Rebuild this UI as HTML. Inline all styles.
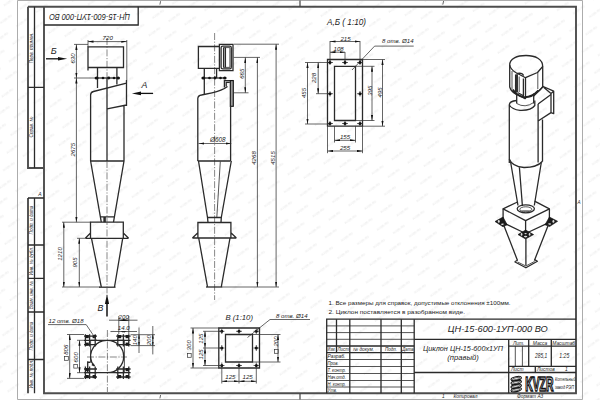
<!DOCTYPE html>
<html><head><meta charset="utf-8">
<style>
html,body{margin:0;padding:0;background:#fff;width:600px;height:400px;overflow:hidden}
svg{display:block}
text{font-family:"Liberation Sans",sans-serif;font-style:italic;fill:#222}
text.up{font-style:normal}
.k{stroke:#2a2a2a;stroke-width:1.3;fill:none}
.f{stroke:#4d4d4d;stroke-width:1.9;fill:none}
.m{stroke:#2a2a2a;stroke-width:0.8;fill:none}
.t{stroke:#333;stroke-width:0.75;fill:none}
.c{stroke:#555;stroke-width:0.7;fill:none;stroke-dasharray:7 1.6 1.2 1.6}
.g{stroke:#a3a3a3;stroke-width:0.9;fill:none}
</style></head>
<body>
<svg width="600" height="400" viewBox="0 0 600 400">
<defs>
<marker id="a" viewBox="0 0 10 4" refX="10" refY="2" markerWidth="5.5" markerHeight="2.2" markerUnits="userSpaceOnUse" orient="auto-start-reverse"><path d="M0,0 L10,2 L0,4 z" fill="#111"/></marker>
<marker id="s" viewBox="0 0 6 3" refX="6" refY="1.5" markerWidth="4" markerHeight="2" markerUnits="userSpaceOnUse" orient="auto-start-reverse"><path d="M0,0 L6,1.5 L0,3 z" fill="#222"/></marker>
<pattern id="wm" patternUnits="userSpaceOnUse" width="16.44" height="17.97" patternTransform="translate(408.1,148.3) rotate(11.75)">
<text transform="translate(8.2,10.1) rotate(-47.7)" font-size="3.1" text-anchor="middle" style="fill:#ebebeb;font-style:normal;font-weight:bold">KYZR.RU</text>
</pattern>
</defs>
<rect width="600" height="400" fill="#fff"/>
<rect width="600" height="400" fill="url(#wm)"/>

<!-- ===== FRAME ===== -->
<g id="frame">
<path class="g" d="M17.5,0.5 H582.5 V399.5 H17.5 Z"/>
<path class="f" d="M28,6.7 H576 V393.3 H44 V6.7"/>
<path class="f" d="M28,6.7 V168 H44"/><path class="k" d="M34.5,6.7 V168 M28,87.4 H44"/>
<path class="f" d="M28,198 V393.3"/><path class="k" d="M28,198 H44 M34.5,198 V393.3 M28,245 H44 M28,278.4 H44 M28,312 H44 M28,359.5 H44"/>
<!-- top stamp -->
<path class="k" d="M44,25 H138.2 V6.7"/>
<path class="t" d="M160.6,1.2 L159.9,4.6 M443.6,1 L442.8,4.6 M160.6,395 L159.9,398.4"/><path d="M300,0.5 V6.7" stroke="#444" stroke-width="1.2"/>
</g>

<!-- left strip texts -->
<g font-size="4.6" text-anchor="middle">
<text transform="translate(32.6,48) rotate(-90)">Перв. примен.</text>
<text transform="translate(32.6,127) rotate(-90)">Справ. №</text>
<text transform="translate(32.6,220) rotate(-90)">Подп. и дата</text>
<text transform="translate(32.6,261) rotate(-90)">Инв. № дубл.</text>
<text transform="translate(32.6,295) rotate(-90)">Взам. инв. №</text>
<text transform="translate(32.6,336) rotate(-90)">Подп. и дата</text>
<text transform="translate(32.6,374) rotate(-90)">Инв. № подл.</text>
<text x="40" y="196" font-size="5">А</text>
<text x="579" y="204" font-size="4.5">А</text>
</g>
<text transform="translate(89.6,13.6) rotate(180)" font-size="9.6" text-anchor="middle" textLength="81" lengthAdjust="spacingAndGlyphs">ЦН-15-600-1УП-000 ВО</text>

<!-- ===== FRONT VIEW (left cyclone) ===== -->
<g id="front">
<path class="c" d="M107,38 V78"/>
<path class="k" d="M88,70.6 V46.9 H123.5 V67.5 H88"/>
<path class="k" d="M97.5,67.5 V88 M116.9,67.5 V84.5"/>
<path class="k" d="M94.4,78 H119.6" stroke-width="1.9"/>
<g fill="#111"><ellipse cx="96.6" cy="78" rx="2" ry="1.6"/><ellipse cx="103" cy="78" rx="1.3" ry="1.3"/><ellipse cx="108.7" cy="78" rx="1.5" ry="1.4"/><ellipse cx="114" cy="78" rx="1.3" ry="1.3"/><ellipse cx="118.2" cy="78" rx="1.7" ry="1.5"/></g>
<path class="k" d="M107,78 V161"/>
<path class="k" d="M90.6,161 V95 Q90.6,92.2 93.5,91.5 L126.5,83.2 M126.5,80 V106 M107,108.8 L126.5,105 M124,106 V161 M90.6,161 H124"/>
<path class="k" d="M90.6,161 L101.3,222.2 M124,161 L113.5,222.2 M100.3,216.9 H115 M104,216.9 V222.2 M105.2,216.9 V222.2"/>
<path class="k" d="M90.5,238.3 V222.2 H123.3 V238.3 M85.3,238.3 H128.6 M85.3,238.3 L90.5,233 M128.6,238.3 L123.3,233"/>
<path class="k" d="M91.5,238.3 L101.3,287 M122.7,238.3 L114.5,287"/>
<path class="k" d="M99,287.2 H115.5" stroke-width="1.5"/>
<path class="c" d="M107,161 V300"/>
<!-- dims -->
<path class="t" d="M88,40 V46.9 M126.8,40 V80" />
<path class="t" d="M88,41.6 H126.8" marker-start="url(#a)" marker-end="url(#a)"/>
<text x="107.7" y="40.3" font-size="6.1" text-anchor="middle">720</text>
<path class="t" d="M74,44.4 H88 M74,78 H94"/>
<path class="t" d="M76.4,44.4 V78" marker-start="url(#a)" marker-end="url(#a)"/>
<text transform="translate(74.6,58.5) rotate(-90)" font-size="6.1" text-anchor="middle">630</text>
<path class="t" d="M76.4,78 V222.2" marker-start="url(#a)" marker-end="url(#a)"/>
<text transform="translate(74.9,149.7) rotate(-90)" font-size="6.1" text-anchor="middle">2675</text>
<path class="t" d="M62,222.2 H90.5 M62,287 H100 M77,238.3 H85.3"/>
<path class="t" d="M63.8,222.2 V287" marker-start="url(#a)" marker-end="url(#a)"/>
<text transform="translate(62.4,254) rotate(-90)" font-size="6.1" text-anchor="middle">1210</text>
<path class="t" d="M79.3,238.3 V287" marker-start="url(#a)" marker-end="url(#a)"/>
<text transform="translate(77.4,262.5) rotate(-90)" font-size="6.1" text-anchor="middle">905</text>
<!-- view arrows -->
<path d="M46,58.8 H60" stroke="#111" stroke-width="1.3"/><path d="M67.2,58.8 L58,57.1 L58,60.5 Z" fill="#111"/>
<text x="50.8" y="53.6" font-size="9.2">Б</text>
<path d="M140,93.4 H153.1" stroke="#111" stroke-width="1.3"/><path d="M131.9,93.4 L141,91.6 L141,95.2 Z" fill="#111"/>
<text x="141.6" y="88.4" font-size="8.8">А</text>
<path d="M107,316.5 V302" stroke="#111" stroke-width="1.5"/><path d="M107,294 L104.9,304 L109.1,304 Z" fill="#111"/>
<text x="97.6" y="310.8" font-size="8.8">В</text>
</g>

<!-- ===== SIDE VIEW ===== -->
<g id="side">
<path class="c" d="M214.6,33 V300"/>
<path class="k" d="M219.4,46.5 H198.4 V68.4 H219.4"/>
<path class="k" d="M219.4,44.4 H233 V70.6 H219.4 Z"/>
<rect x="221.1" y="46.1" width="10.2" height="22.8" rx="1.6" class="k"/>
<path class="k" d="M223.6,47.6 V67.4 M225.4,47.6 V67.4" stroke-width="1"/><path class="m" d="M223.4,47.6 H229.9 V67.4 H223.4"/>
<path class="k" d="M204.3,68.4 V95 M216.6,68.4 V78"/>
<path class="k" d="M201.9,78 H226.3" stroke-width="1.9"/>
<g fill="#111"><ellipse cx="203.4" cy="78" rx="2" ry="1.6"/><ellipse cx="209.5" cy="78" rx="1.3" ry="1.3"/><ellipse cx="215" cy="78" rx="1.4" ry="1.4"/><ellipse cx="220.5" cy="78" rx="1.3" ry="1.3"/><ellipse cx="224.8" cy="78" rx="1.7" ry="1.5"/></g>
<path class="k" d="M197.8,161 V98.5 Q198,95.6 201.5,95 L212,92.8 Q222,90.6 227.5,86.5"/>
<path class="k" d="M224.4,87.5 V80.6 H233.3 M226.2,86.5 V82.4 H229.8"/>
<rect x="230.3" y="80.6" width="3" height="25.7" fill="#999" stroke="#111" stroke-width="1.1"/>
<path class="k" d="M230.6,106.3 V161 M197.8,161 H230.6"/>
<path class="t" d="M198.5,143.5 H231.3" marker-start="url(#a)" marker-end="url(#a)"/>
<text x="217.8" y="141.6" font-size="6.4" text-anchor="middle">Ø608</text>
<path class="k" d="M198.5,161 L207.5,217.5 M231.3,161 L221.3,217.5 M207.5,217.5 H221.3 M208,222.5 L207.5,217.5 M221,222.5 L221.3,217.5"/>
<path class="m" d="M220.3,161.5 L216.8,217.5"/>
<path class="k" d="M197.9,238 V222.5 H230.9 V238 M192.4,238 H236.4 M192.4,238 L197.9,232.8 M236.4,238 L230.9,232.8"/>
<path class="k" d="M198.7,238 L207.5,286.8 M230,238 L221.3,286.8"/>
<path class="k" d="M206,287 H222.5" stroke-width="1.5"/>
<!-- dims -->
<path class="t" d="M234,44.2 H279 M233.7,57.4 H260 M234,92.8 H248.5 M222.5,287 H279"/>
<path class="t" d="M245.3,57.4 V92.8" marker-start="url(#a)" marker-end="url(#a)"/>
<text transform="translate(244.2,73.7) rotate(-90)" font-size="6.1" text-anchor="middle">665</text>
<path class="t" d="M257.4,57.4 V287" marker-start="url(#a)" marker-end="url(#a)"/>
<text transform="translate(256,158) rotate(-90)" font-size="6.1" text-anchor="middle">4268</text>
<path class="t" d="M276.1,44.2 V287" marker-start="url(#a)" marker-end="url(#a)"/>
<text transform="translate(274.5,158) rotate(-90)" font-size="6.1" text-anchor="middle">4515</text>
</g>

<!-- ===== VIEW A,B ===== -->
<g id="viewAB">
<text x="327" y="25" font-size="8.2" textLength="39" lengthAdjust="spacingAndGlyphs">А,Б ( 1:10)</text>
<path class="k" d="M327.5,59.5 H362.5 V126.2 H327.5 Z"/>
<path class="k" d="M334.5,66.3 H355.5 V120.5 H334.5 Z"/>
<g class="t">
<path d="M330,41 V62 M345,52 V62 M360,41 V62"/>
<path d="M330,41.5 H360" marker-start="url(#a)" marker-end="url(#a)"/>
<path d="M330,52.2 H345" marker-start="url(#a)" marker-end="url(#a)"/>
<path d="M305,62.5 H330 M316,93.7 H330 M305,124 H330"/>
<path d="M307.5,62.5 V124" marker-start="url(#a)" marker-end="url(#a)"/>
<path d="M318.2,62.5 V93.7" marker-start="url(#a)" marker-end="url(#a)"/>
<path d="M355.5,66.3 H374.5 M355.5,120.5 H374.5 M362.5,59.5 H385 M362.5,126.2 H385"/>
<path d="M372,66.3 V120.5" marker-start="url(#a)" marker-end="url(#a)"/>
<path d="M382.5,59.5 V126.2" marker-start="url(#a)" marker-end="url(#a)"/>
<path d="M334.5,126.2 V142.5 M355.5,126.2 V142.5 M327.5,126.2 V153.2 M362.5,126.2 V153.2"/>
<path d="M334.5,140.3 H355.5" marker-start="url(#a)" marker-end="url(#a)"/>
<path d="M327.5,151 H362.5" marker-start="url(#a)" marker-end="url(#a)"/>
<path d="M352,70 L374.6,46.1 H413.7"/>
</g>
<g class="t" stroke-width="0.7">
<path d="M327.5,62.5 H333 M342,62.5 H348 M357,62.5 H363 M330,60 V65 M345,60 V65 M360,60 V65"/>
<path d="M327.5,93.7 H333 M357,93.7 H363 M330,91 V96.5 M360,91 V96.5"/>
<path d="M327.5,123.5 H333 M342,123.5 H348 M357,123.5 H363 M330,121 V126 M345,121 V126 M360,121 V126"/>
</g>
<g fill="#111"><circle cx="330" cy="62.5" r="1.5"/><circle cx="345" cy="62.5" r="1.5"/><circle cx="360" cy="62.5" r="1.5"/><circle cx="330" cy="93.7" r="1.5"/><circle cx="360" cy="93.7" r="1.5"/><circle cx="330" cy="123.5" r="1.5"/><circle cx="345" cy="123.5" r="1.5"/><circle cx="360" cy="123.5" r="1.5"/></g>
<g font-size="6.1" text-anchor="middle">
<text x="345.5" y="40.6">215</text>
<text x="338.6" y="51.1">108</text>
<text x="345" y="138.6">155</text>
<text x="345" y="149.6">255</text>
<text transform="translate(305.6,93) rotate(-90)">455</text>
<text transform="translate(316.3,78) rotate(-90)">228</text>
<text transform="translate(371.6,90.6) rotate(-90)">395</text>
<text transform="translate(381.6,92.4) rotate(-90)">495</text>
</g>
<text x="382" y="43" font-size="6.1">8 отв. Ø14</text>
</g>

<!-- ===== NOTES ===== -->
<g font-size="6" style="font-style:normal">
<text class="up" x="328.5" y="305.3" textLength="182" lengthAdjust="spacingAndGlyphs">1. Все размеры для справок, допустимые отклонения ±100мм.</text>
<text class="up" x="328.5" y="313.5" textLength="136.5" lengthAdjust="spacingAndGlyphs">2. Циклон поставляется в разобранном виде.</text>
</g>

<!-- ===== 3D VIEW ===== -->
<g id="iso" stroke-linejoin="round">
<!-- drum -->
<path class="k" d="M509.7,65 C509.7,58.5 517,55.5 526,55.5 C535.5,55.5 542.7,59 542.7,66.5 L537.5,72.5 L525.5,77.7 L515.7,72.5 Q510.5,69.5 509.7,65 Z"/>
<path class="k" d="M509.7,65 V87 Q511,91.5 516.5,94.5 M542.7,66.5 V86.5 Q541,90 535,93.5 M525.5,77.7 V99"/>
<path class="m" d="M537.8,72.3 V89 M512,71 V89.5"/>
<path class="k" d="M516.5,74.5 Q518,72.8 521,73.4 Q523.5,74 523.3,75.8"/>
<path d="M515.6,74.6 H518 V92.5 H515.6 Z" fill="#333"/>
<path class="k" d="M515.6,74.6 V93.5 L525.5,99 M523.4,78.6 V95.8 L518,92.8"/>
<path class="m" d="M519.2,76.5 V92"/>
<!-- neck -->
<path class="k" d="M516.7,95 V103.5 M533.7,93.5 V103.5"/>
<path class="m" d="M516.7,103.5 Q525,108.5 533.7,102.5"/>
<path d="M512.8,89.5 Q516,95.5 524,97.2 Q532,97.5 538.5,90.5" stroke="#222" stroke-width="2" fill="none"/>
<!-- body -->
<path class="k" d="M509.3,163 V105 Q509.5,101 516.7,100.5 M509.3,105 Q512,109.5 520,110.3 Q531,110.8 534.8,105.5 V100.5"/>
<path class="k" d="M538.1,104 V162.5 M542.5,119.5 V161.5"/>
<path class="k" d="M509.3,159 Q512,166.5 524,167.5 Q537,167.5 542.5,161.2"/>
<!-- inlet -->
<path class="k" d="M533.7,96 L543.2,86.5 L553.7,91.2 V113.7 L551,112.6 V93.5 L543.6,87.3 M551,93.5 L553.7,91.2"/>
<path class="k" d="M538.1,104 L551,94.5 M538.1,121 L551,112.6"/>
<!-- cone -->
<path class="k" d="M510.6,162 L518,205.5 M541.3,162.5 L534.3,205.5 M519.4,167.3 L522.4,206"/>
<ellipse cx="525.8" cy="208.8" rx="8.6" ry="4" class="k"/>
<ellipse cx="525.8" cy="209.3" rx="6" ry="2.5" class="m"/>
<path d="M520.5,210 Q525.8,212.5 531,210 Q525.8,211 520.5,210Z" fill="#222"/>
<!-- box -->
<path class="k" d="M517.5,202 L503.1,208.8 L525.6,220.6 L549.4,208.8 L534.6,201.2"/>
<path class="k" d="M503.1,208.8 V222.7 L525.6,233.5 L549.4,222.4 V208.8 M525.6,220.6 V233.5"/>
<!-- plates -->
<g fill="#1a1a1a" stroke="#111" stroke-width="0.6" stroke-linejoin="round">
<path d="M495,221.5 L503,217 L507.2,224.8 L503,226.8 Z"/>
<path d="M518,234.6 L525.6,230 L533.6,234.6 L525.6,239 Z"/>
<path d="M545,224.8 L549.4,217 L557.6,221.3 L549.6,226.5 Z"/>
</g>
<g fill="#ddd">
<ellipse cx="498.8" cy="221.4" rx="1" ry="1.4"/><ellipse cx="502.6" cy="224.2" rx="1.6" ry="0.8"/>
<ellipse cx="521.6" cy="234.4" rx="0.9" ry="1.4"/><ellipse cx="529.6" cy="234.4" rx="0.9" ry="1.4"/><ellipse cx="525.6" cy="236.6" rx="1.7" ry="0.8"/><ellipse cx="525.6" cy="233.6" rx="1.2" ry="0.6"/>
<ellipse cx="553.4" cy="221.4" rx="1" ry="1.4"/><ellipse cx="549.6" cy="224" rx="1.6" ry="0.8"/>
</g>
<!-- hopper -->
<path class="k" d="M503.5,224.5 L517.5,260.5 M548.5,224.5 L534.4,260.5 M525.9,238.7 V265.6"/>
<path d="M514.6,261.8 L525.9,267.8 L537.4,261.3 L534.6,259.6 M514.6,261.8 L517.6,260.2" class="k"/><path d="M517.6,262 L525.9,266 L534.6,261.4" class="m"/>
</g>

<!-- ===== PLAN VIEW ===== -->
<g id="plan">
<path class="c" d="M87,357 H127 M107.4,330 V392"/>
<path class="m" d="M90.6,340.3 V362 M124.4,340.3 V372.7"/>
<path class="k" d="M90.6,340.3 H124.4 M87.7,372.7 H124.4 M87.7,372.7 V362 L90.6,362.3 M107.5,340.3 A16.2,16.2 0 0 1 107.5,372.7 M107.5,340.3 A16.2,16.2 0 0 0 91.8,362.5 L94.6,366 L91.8,364.6"/>
<!-- corner clusters -->
<g class="k" stroke-width="1.15">
<path d="M85.4,334.2 V346.5 M89.6,334.2 V346.5 M95.2,334.2 V346.5 M84,336.2 H97 M84,344.6 H97"/>
<path d="M117.8,334.2 V346.5 M123.4,334.2 V346.5 M128.8,334.2 V346.5 M116.2,336.2 H130.6 M116.2,344.6 H130.6"/>
<path d="M85.4,366.5 V379 M89.6,366.5 V379 M95.2,366.5 V379 M84,369 H97 M84,377 H97"/>
<path d="M117.8,366.5 V379 M123.4,366.5 V379 M128.8,366.5 V379 M116.2,369 H130.6 M116.2,377 H130.6"/>
</g>
<path class="k" d="M84,340.3 H97 M116.2,340.3 H130.6 M84,372.7 H97 M116.2,372.7 H130.6"/>
<g fill="#1a1a1a">
<rect x="85.6" y="335" width="3.2" height="3.2"/><rect x="92.6" y="335" width="3.2" height="3.2"/><rect x="85.6" y="342.6" width="3.2" height="3.2"/>
<rect x="118" y="335" width="3.2" height="3.2"/><rect x="125.6" y="335" width="3.2" height="3.2"/><rect x="125.6" y="342.6" width="3.2" height="3.2"/>
<rect x="85.6" y="368" width="3.2" height="3.2"/><rect x="85.6" y="375" width="3.2" height="3.2"/><rect x="92.6" y="375" width="3.2" height="3.2"/>
<rect x="125.6" y="368" width="3.2" height="3.2"/><rect x="118" y="375" width="3.2" height="3.2"/><rect x="125.6" y="375" width="3.2" height="3.2"/>
</g>
<!-- dims -->
<g class="t">
<path d="M67,334.5 H84 M77,340.3 H84 M77,372.7 H87.7 M67,378.4 H84"/>
<path d="M69.7,334.5 V378.4" marker-start="url(#a)" marker-end="url(#a)"/>
<path d="M79.5,340.3 V372.7" marker-start="url(#a)" marker-end="url(#a)"/>
<path d="M118.8,316 V334 M128.8,316 V334"/>
<path d="M109,320.2 H137.5"/>
<path d="M118.8,320.2 H128.8" marker-start="url(#a)" marker-end="url(#a)"/>
<path d="M110.5,331.5 H137"/>
<path d="M121.2,331.5 H126.4" marker-start="url(#s)" marker-end="url(#s)"/>
<path d="M130.6,334.7 H155 M130.6,345.6 H155 M139,327.5 V353 M152.8,326 V354.4"/>
<path d="M139,334.7 V345.6" marker-start="url(#s)" marker-end="url(#s)"/>
<path d="M152.8,334.7 V345.6" marker-start="url(#s)" marker-end="url(#s)"/>
<path d="M48,324.6 H86.2 L96,339.2"/>
</g>
<g font-size="6.1" text-anchor="middle">
<text x="123.7" y="318.6">200</text>
<text x="123.7" y="329.8">14.0</text>
<text transform="translate(137.2,340.2) rotate(-90)">140</text>
<text transform="translate(150.9,340.2) rotate(-90)">200</text>
<text transform="translate(68.3,349.7) rotate(-90)">806</text>
<text transform="translate(77.6,357.3) rotate(-90)">600</text>
</g>
<text x="48.5" y="323" font-size="6.1">12 отв.  Ø18</text>
</g>

<!-- ===== VIEW V ===== -->
<g id="viewV">
<text x="225.5" y="319.5" font-size="8" textLength="27.5" lengthAdjust="spacingAndGlyphs">В (1:10)</text>
<path class="k" d="M218.8,328 H259.5 V368 H218.8 Z"/>
<path class="k" d="M225.5,334.5 H252.5 V362 H225.5 Z"/>
<g class="t" stroke-width="0.7">
<path d="M219,331.3 H224.5 M236,331.3 H242 M253.5,331.3 H259.3 M221.8,328.5 V334 M239,328.5 V334 M256.3,328.5 V334"/>
<path d="M219,348 H224.5 M253.5,348 H259.3 M221.8,345 V351 M256.3,345 V351"/>
<path d="M219,365.5 H224.5 M236,365.5 H242 M253.5,365.5 H259.3 M221.8,362.5 V368 M239,362.5 V368 M256.3,362.5 V368"/>
</g>
<g fill="#111"><circle cx="221.8" cy="331.3" r="1.5"/><circle cx="239" cy="331.3" r="1.5"/><circle cx="256.3" cy="331.3" r="1.5"/><circle cx="221.8" cy="348" r="1.5"/><circle cx="256.3" cy="348" r="1.5"/><circle cx="221.8" cy="365.5" r="1.5"/><circle cx="239" cy="365.5" r="1.5"/><circle cx="256.3" cy="365.5" r="1.5"/></g>
<g class="t">
<path d="M190.5,328 H218.8 M190.5,368 H218.8 M203,331.3 H221.8 M203,348 H221.8 M203,365.5 H221.8"/>
<path d="M193,328 V368" marker-start="url(#a)" marker-end="url(#a)"/>
<path d="M205,331.3 V348" marker-start="url(#a)" marker-end="url(#a)"/>
<path d="M205,348 V365.5" marker-start="url(#a)" marker-end="url(#a)"/>
<path d="M252.5,334.5 H280.5 M252.5,362 H280.5"/>
<path d="M278,334.5 V362" marker-start="url(#a)" marker-end="url(#a)"/>
<path d="M221.8,368 V383.5 M239,368 V383.5 M256.3,368 V383.5"/>
<path d="M221.8,381.3 H239" marker-start="url(#a)" marker-end="url(#a)"/>
<path d="M239,381.3 H256.3" marker-start="url(#a)" marker-end="url(#a)"/>
<path d="M247.5,337.5 L270,319.5 H310"/>
</g>
<g font-size="6.1" text-anchor="middle">
<text x="230.4" y="379.3">125</text>
<text x="247.6" y="379.3">125</text>
<text transform="translate(203.4,338.6) rotate(-90)">125</text>
<text transform="translate(203.4,354.4) rotate(-90)">125</text>
<text transform="translate(191.2,345.3) rotate(-90)">300</text>
<text transform="translate(278.4,341.5) rotate(-90)">200</text>
</g>
<text x="276" y="317.8" font-size="6.1">8 отв.  Ø14</text>
<path d="M300,393.3 V399.5" stroke="#444" stroke-width="1.2"/>
</g>

<!-- ===== TITLE BLOCK ===== -->
<g id="title">
<path class="k" d="M326.7,393.3 V319.2 H576"/>
<path class="m" d="M326.7,325.9 H414.2 M326.7,332.6 H414.2 M326.7,339.3 H414.2"/>
<path class="k" d="M326.7,346 H414.2 M326.7,352.6 H414.2"/>
<path class="m" d="M326.7,359.5 H414.2 M326.7,366.5 H414.2 M326.7,373.5 H414.2 M326.7,380.5 H414.2 M326.7,387 H414.2"/>
<path class="k" d="M336.5,319.2 V352.7 M349.8,319.2 V393.3 M381,319.2 V393.3 M401.3,319.2 V393.3 M414.2,319.2 V393.3"/>
<path class="k" d="M414.2,339.4 H576 M414.2,372.5 H576 M508.7,339.4 V393.3 M508.7,346.1 H576 M508.7,366.3 H576 M528.7,339.4 V366.3 M551.3,339.4 V366.3 M535.3,366.3 V372.5"/>
<path class="m" d="M515.3,346.1 V366.3 M522.4,346.1 V366.3"/>
<g font-size="4.9">
<text x="327.6" y="351.3" textLength="8" lengthAdjust="spacingAndGlyphs">Изм.</text>
<text x="337.5" y="351.3" textLength="11.5" lengthAdjust="spacingAndGlyphs">Лист</text>
<text x="353" y="351.3" textLength="21" lengthAdjust="spacingAndGlyphs">№ докум.</text>
<text x="385" y="351.3" textLength="12" lengthAdjust="spacingAndGlyphs">Подп.</text>
<text x="402.2" y="351.3" textLength="11.5" lengthAdjust="spacingAndGlyphs">Дата</text>
<text x="327.5" y="358.4" font-size="6.2" textLength="18" lengthAdjust="spacingAndGlyphs">Разраб.</text>
<text x="327.5" y="364.8" font-size="6.2" textLength="11" lengthAdjust="spacingAndGlyphs">Пров.</text>
<text x="327.5" y="371.9" font-size="6.2" textLength="18.5" lengthAdjust="spacingAndGlyphs">Т. контр.</text>
<text x="327.5" y="378.8" font-size="6.2" textLength="18.5" lengthAdjust="spacingAndGlyphs">Нач.отд.</text>
<text x="327.5" y="385.6" font-size="6.2" textLength="18.5" lengthAdjust="spacingAndGlyphs">Н. контр.</text>
<text x="327.5" y="392" font-size="6.2" textLength="9.5" lengthAdjust="spacingAndGlyphs">Утв.</text>
<text x="518.7" y="344.6" text-anchor="middle">Лит.</text>
<text x="540" y="344.6" text-anchor="middle">Масса</text>
<text x="563.7" y="344.6" text-anchor="middle">Масштаб</text>
<text x="511" y="371.2">Лист</text>
<text x="537" y="371.2">Листов</text>
<text x="565" y="371.2">1</text>
</g>
<text x="535" y="358" font-size="6.6" textLength="12.2" lengthAdjust="spacingAndGlyphs">285,1</text>
<text x="559.3" y="358" font-size="6.6" textLength="10" lengthAdjust="spacingAndGlyphs">1:25</text>
<text x="447.8" y="331.7" font-size="8.8" textLength="100" lengthAdjust="spacingAndGlyphs">ЦН-15-600-1УП-000 ВО</text>
<text x="463" y="350.5" font-size="7.6" text-anchor="middle" textLength="80" lengthAdjust="spacingAndGlyphs">Циклон ЦН-15-600х1УП</text>
<text x="463" y="360" font-size="7.6" text-anchor="middle">(правый)</text>
<g font-size="4.8">
<text x="442" y="398.3">1</text>
<text x="453.5" y="398.3">Копировал</text>
<text x="517" y="398.3">Формат А3</text>
</g>
<!-- logo -->
<g>
<g fill="none" stroke="#111" stroke-width="1.1">
<ellipse cx="516.2" cy="378.6" rx="5.3" ry="1.9" transform="rotate(-12 516.2 378.6)"/>
<ellipse cx="516.2" cy="382.4" rx="5.3" ry="1.9" transform="rotate(-12 516.2 382.4)"/>
<ellipse cx="516.2" cy="386.2" rx="5.3" ry="1.9" transform="rotate(-12 516.2 386.2)"/>
<ellipse cx="516.2" cy="389.8" rx="5.3" ry="1.9" transform="rotate(-12 516.2 389.8)"/>
</g>
<g fill="none" stroke="#111" stroke-width="0.6">
<ellipse cx="516.2" cy="378.6" rx="4" ry="0.9" transform="rotate(-12 516.2 378.6)"/>
<ellipse cx="516.2" cy="382.4" rx="4" ry="0.9" transform="rotate(-12 516.2 382.4)"/>
<ellipse cx="516.2" cy="386.2" rx="4" ry="0.9" transform="rotate(-12 516.2 386.2)"/>
<ellipse cx="516.2" cy="389.8" rx="4" ry="0.9" transform="rotate(-12 516.2 389.8)"/>
</g>
<text class="up" x="525.2" y="391.2" font-size="19.5" style="font-weight:bold;fill:#fff;stroke:#111;stroke-width:1.7" textLength="28.2" lengthAdjust="spacingAndGlyphs">KVZR</text>
<text x="555" y="380.8" font-size="5" textLength="20.5" lengthAdjust="spacingAndGlyphs">Котельный</text>
<text x="555" y="388.6" font-size="5" textLength="19" lengthAdjust="spacingAndGlyphs">завод РЭП</text>
</g>
</g>
<g fill="none" stroke="#333" stroke-width="0.7">
<rect x="64.6" y="356.6" width="3.7" height="3.7"/>
<rect x="73.8" y="364.4" width="3.7" height="3.7"/>
<rect x="187.5" y="353.6" width="3.7" height="3.7"/>
<rect x="274.5" y="349.6" width="3.7" height="3.7"/>
</g>
</svg>
</body></html>
